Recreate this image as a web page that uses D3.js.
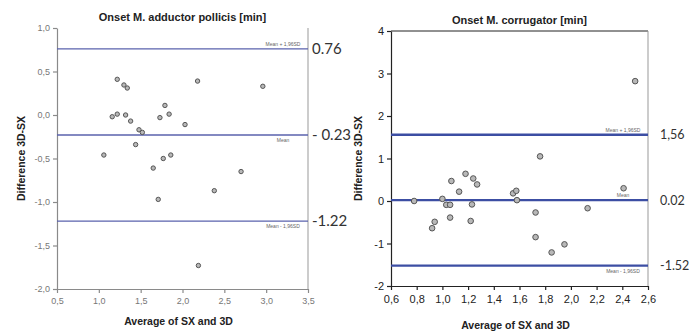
<!DOCTYPE html>
<html>
<head>
<meta charset="utf-8">
<script src="https://cdn.jsdelivr.net/npm/d3@7"></script>
<style>
  body { margin: 0; background: #fff; }
  svg { display: block; }
  text { font-family: "Liberation Sans", Arial, sans-serif; }
  .note { font-family: Lato, "Open Sans", sans-serif; fill: #333; }
</style>
</head>
<body>
<div id="chart"></div>
<script>
// Left plot: Onset M. adductor pollicis
var apTitle = 'Onset M. adductor pollicis [min]';
var apAvg = [1.22, 1.30, 1.34, 2.18, 2.96, 1.79, 1.16, 1.22, 1.32, 1.38, 1.73, 1.84,
  2.03, 1.48, 1.52, 1.44, 1.06, 1.77, 1.86, 1.65, 2.70, 2.38, 1.71, 2.19];
var apDiff = [0.41, 0.345, 0.31, 0.39, 0.33, 0.11, -0.02, 0.01, 0.0, -0.07, -0.03, 0.01,
  -0.11, -0.17, -0.20, -0.34, -0.46, -0.50, -0.46, -0.61, -0.65, -0.87, -0.97, -1.73];
var apLimits = [0.76, -0.23, -1.22];
var apNotes = ['0.76', '- 0.23', '-1.22'];
var apXTicks = [0.5, 1.0, 1.5, 2.0, 2.5, 3.0, 3.5];
var apYTicks = [1.0, 0.5, 0.0, -0.5, -1.0, -1.5, -2.0];

// Right plot: Onset M. corrugator
var coTitle = 'Onset M. corrugator [min]';
var coAvg = [0.78, 1.00, 0.92, 0.94, 1.07, 1.18, 1.24, 1.27, 1.13, 1.03, 1.06, 1.06, 1.23,
  1.22, 1.55, 1.575, 1.58, 1.725, 1.725, 1.85, 1.95, 2.13, 2.41, 1.76, 2.50];
var coDiff = [0.0, 0.05, -0.64, -0.49, 0.47, 0.64, 0.53, 0.39, 0.22, -0.09, -0.09, -0.39, -0.08,
  -0.47, 0.18, 0.24, 0.02, -0.27, -0.85, -1.21, -1.02, -0.17, 0.30, 1.05, 2.82];
var coLimits = [1.56, 0.02, -1.52];
var coNotes = ['1,56', '0.02', '-1.52'];
var coXTicks = [0.6, 0.8, 1.0, 1.2, 1.4, 1.6, 1.8, 2.0, 2.2, 2.4, 2.6];
var coYTicks = [4, 3, 2, 1, 0, -1, -2];

var limitNames = ['Mean + 1,96SD', 'Mean', 'Mean - 1,96SD'];

var loc = d3.formatLocale({ decimal: ',', thousands: '.', grouping: [3], currency: ['', ''], minus: '-' });

var svg = d3.select('#chart').append('svg')
  .attr('width', 694).attr('height', 333);

function bland(cfg) {
  var x = d3.scaleLinear().domain(cfg.xDomain).range([cfg.left, cfg.right]);
  var y = d3.scaleLinear().domain(cfg.yDomain).range([cfg.bottom, cfg.top]);
  var g = svg.append('g');

  // frame
  if (cfg.topLine) {
    g.append('line').attr('x1', cfg.left).attr('x2', cfg.right)
      .attr('y1', cfg.top).attr('y2', cfg.top)
      .attr('stroke', cfg.axisColor).attr('stroke-width', 1);
  }
  g.append('line').attr('x1', cfg.right).attr('x2', cfg.right)
    .attr('y1', cfg.top).attr('y2', cfg.bottom)
    .attr('stroke', '#999').attr('stroke-width', 1);

  var xAxis = g.append('g')
    .attr('transform', 'translate(0,' + cfg.bottom + ')')
    .call(d3.axisBottom(x).tickValues(cfg.xTicks).tickSize(4).tickSizeOuter(0)
      .tickFormat(loc.format('.1f')));
  var yAxis = g.append('g')
    .attr('transform', 'translate(' + cfg.left + ',0)')
    .call(d3.axisLeft(y).tickValues(cfg.yTicks).tickSize(4).tickSizeOuter(0)
      .tickFormat(loc.format(cfg.yFormat)));
  [xAxis, yAxis].forEach(function (a) {
    a.selectAll('path, line').attr('stroke', cfg.axisColor).attr('stroke-width', 1.2);
    a.selectAll('text').attr('fill', cfg.tickColor)
      .style('font-size', cfg.tickSize + 'px')
      .style('font-family', '"Liberation Sans", Arial, sans-serif');
  });
  xAxis.selectAll('text').attr('dy', '0.9em');

  // limit lines
  cfg.limits.forEach(function (v, i) {
    g.append('line').attr('x1', cfg.left).attr('x2', cfg.right)
      .attr('y1', y(v)).attr('y2', y(v))
      .attr('stroke', cfg.lineColor).attr('stroke-width', cfg.lineWidth);
    var below = cfg.nameBelow[i];
    g.append('text').attr('x', cfg.right - 25)
      .attr('y', y(v) + (below ? 7 : -3))
      .attr('text-anchor', 'middle')
      .style('font-size', '5px').attr('fill', '#666')
      .text(limitNames[i]);
    g.append('text').attr('class', 'note')
      .attr('x', cfg.noteX).attr('y', y(v)).attr('dy', '0.35em')
      .style('font-size', cfg.noteSize + 'px')
      .text(cfg.notes[i]);
  });

  // points
  g.selectAll('circle').data(cfg.xs).enter().append('circle')
    .attr('cx', function (d) { return x(d); })
    .attr('cy', function (d, i) { return y(cfg.ys[i]); })
    .attr('r', cfg.r)
    .attr('fill', '#b8b8b8').attr('stroke', '#555').attr('stroke-width', 1);

  // titles
  g.append('text').attr('x', (cfg.left + cfg.right) / 2).attr('y', cfg.titleY)
    .attr('text-anchor', 'middle').style('font-size', '11px').style('font-weight', 'bold')
    .attr('fill', '#222').text(cfg.title);
  g.append('text').attr('x', (cfg.left + cfg.right) / 2 - 4).attr('y', cfg.xTitleY)
    .attr('text-anchor', 'middle').style('font-size', '10.5px').style('font-weight', 'bold')
    .attr('fill', '#222').text('Average of SX and 3D');
  g.append('text')
    .attr('transform', 'translate(' + cfg.yTitleX + ',' + ((cfg.top + cfg.bottom) / 2) + ') rotate(-90)')
    .attr('text-anchor', 'middle').style('font-size', '10.5px').style('font-weight', 'bold')
    .attr('fill', '#222').text('Difference 3D-SX');
}

bland({
  left: 57, right: 308, top: 28, bottom: 289,
  xDomain: [0.5, 3.5], yDomain: [-2.0, 1.0],
  xTicks: apXTicks, yTicks: apYTicks, yFormat: '.1f',
  xs: apAvg, ys: apDiff, limits: apLimits, notes: apNotes,
  nameBelow: [false, true, true],
  axisColor: '#8a8a8a', tickColor: '#777', tickSize: 9,
  lineColor: '#5a62ad', lineWidth: 1.3, r: 2.2,
  noteX: 312, noteSize: 15, topLine: false,
  title: apTitle, titleY: 21, xTitleY: 325, yTitleX: 25
});

bland({
  left: 391, right: 648, top: 31, bottom: 286,
  xDomain: [0.6, 2.6], yDomain: [-2, 4],
  xTicks: coXTicks, yTicks: coYTicks, yFormat: 'd',
  xs: coAvg, ys: coDiff, limits: coLimits, notes: coNotes,
  nameBelow: [false, false, true],
  axisColor: '#222', tickColor: '#222', tickSize: 11,
  lineColor: '#3c4ea3', lineWidth: 2.4, r: 2.8,
  noteX: 660, noteSize: 12.5, topLine: true,
  title: coTitle, titleY: 24, xTitleY: 329, yTitleX: 362
});
</script>
</body>
</html>
